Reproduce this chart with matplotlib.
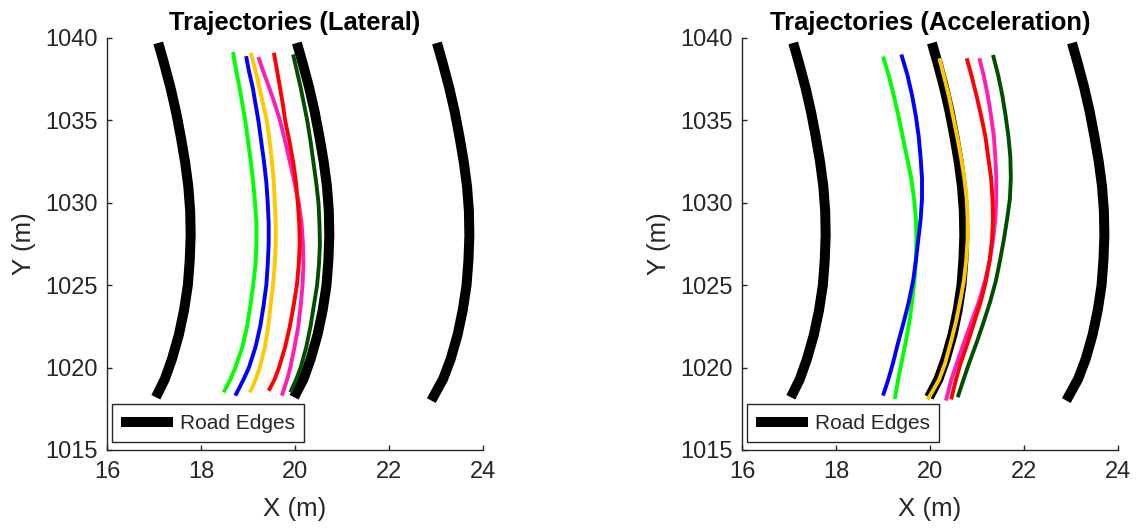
import matplotlib
matplotlib.use("Agg")
import matplotlib.pyplot as plt

plt.rcParams['font.family'] = ['Liberation Sans', 'DejaVu Sans']

# road edges (same in both panels)
edge_y = [1039.7, 1038.5, 1037.0, 1035.5, 1034.0, 1032.5, 1031.0, 1029.5, 1028.0, 1026.5,
          1025.0, 1023.5, 1022.0, 1020.5, 1019.3, 1018.2]
edge_left_x = [17.09, 17.21, 17.35, 17.47, 17.57, 17.66, 17.73, 17.77, 17.78, 17.76,
               17.72, 17.64, 17.53, 17.38, 17.23, 17.04]
edge_mid_x = [20.04, 20.16, 20.30, 20.42, 20.52, 20.61, 20.68, 20.72, 20.73, 20.71,
              20.67, 20.59, 20.48, 20.33, 20.18, 19.98]
edge_right_y = [1039.7, 1038.5, 1037.0, 1035.5, 1034.0, 1032.5, 1031.0, 1029.5, 1028.0, 1026.5,
                1025.0, 1023.5, 1022.0, 1020.5, 1019.3, 1018.0]
edge_right_x = [23.02, 23.14, 23.28, 23.40, 23.50, 23.59, 23.66, 23.70, 23.71, 23.69,
                23.65, 23.57, 23.46, 23.31, 23.15, 22.90]

# lateral trajectories
lat_y_mid = [1038.0, 1037.0, 1036.0, 1035.0, 1033.75, 1032.5, 1031.25, 1030.0, 1028.75,
             1027.5, 1026.25, 1025.0, 1023.75, 1022.5, 1021.25, 1020.0, 1019.25]
lat_green_y = [1039.15] + lat_y_mid + [1018.5]
lat_green_x = [18.68, 18.75, 18.82, 18.88, 18.94, 19.00, 19.06, 19.11, 19.15, 19.18,
               19.18, 19.16, 19.11, 19.05, 18.98, 18.88, 18.73, 18.62, 18.48]
lat_blue_y = [1038.9] + lat_y_mid + [1018.3]
lat_blue_x = [18.96, 19.02, 19.10, 19.16, 19.22, 19.28, 19.34, 19.39, 19.42, 19.44,
              19.44, 19.42, 19.39, 19.33, 19.26, 19.16, 19.02, 18.90, 18.73]
lat_yellow_y = [1039.1] + lat_y_mid + [1018.5]
lat_yellow_x = [19.06, 19.16, 19.24, 19.32, 19.40, 19.46, 19.51, 19.55, 19.57, 19.59,
                19.59, 19.57, 19.53, 19.48, 19.43, 19.36, 19.25, 19.16, 19.04]
lat_pink_y = [1038.85] + lat_y_mid + [1018.3]
lat_pink_x = [19.22, 19.32, 19.45, 19.57, 19.68, 19.79, 19.89, 19.99, 20.08, 20.14,
              20.17, 20.18, 20.16, 20.12, 20.07, 19.99, 19.90, 19.83, 19.72]
lat_red_y = [1039.1] + lat_y_mid + [1018.6]
lat_red_x = [19.55, 19.62, 19.68, 19.74, 19.79, 19.88, 19.96, 20.02, 20.06, 20.09,
             20.10, 20.08, 20.04, 19.97, 19.89, 19.79, 19.66, 19.56, 19.44]
lat_dkgreen_y = [1039.0] + lat_y_mid + [1018.5]
lat_dkgreen_x = [19.96, 20.04, 20.12, 20.19, 20.26, 20.33, 20.39, 20.45, 20.50, 20.52,
                 20.53, 20.51, 20.47, 20.40, 20.33, 20.24, 20.12, 20.02, 19.90]

# acceleration trajectories
acc_y_mid = [1037.75, 1036.5, 1035.25, 1034.0, 1032.75, 1031.5, 1030.25, 1029.0, 1027.75,
             1026.5, 1025.25, 1024.0, 1022.75, 1021.5, 1020.25, 1019.25]
acc_green_y = [1038.87] + acc_y_mid + [1018.1]
acc_green_x = [19.00, 19.12, 19.23, 19.33, 19.42, 19.51, 19.60, 19.66, 19.70, 19.71,
               19.70, 19.67, 19.62, 19.56, 19.48, 19.39, 19.32, 19.25]
acc_blue_y = [1039.0] + acc_y_mid + [1018.3]
acc_blue_x = [19.39, 19.52, 19.62, 19.70, 19.76, 19.80, 19.83, 19.83, 19.80, 19.75,
              19.70, 19.64, 19.55, 19.44, 19.32, 19.21, 19.11, 19.00]
acc_yellow_y = [1038.77] + acc_y_mid + [1018.05]
acc_yellow_x = [20.20, 20.29, 20.40, 20.49, 20.58, 20.66, 20.73, 20.78, 20.80, 20.80,
                20.77, 20.72, 20.64, 20.55, 20.44, 20.32, 20.19, 19.95]
acc_red_y = [1038.77] + acc_y_mid + [1018.07]
acc_red_x = [20.78, 20.88, 20.99, 21.09, 21.18, 21.24, 21.30, 21.33, 21.34, 21.32,
             21.27, 21.19, 21.08, 20.94, 20.80, 20.65, 20.55, 20.45]
acc_pink_y = [1038.77] + acc_y_mid + [1018.0]
acc_pink_x = [21.05, 21.14, 21.23, 21.30, 21.36, 21.39, 21.41, 21.41, 21.39, 21.34,
              21.27, 21.17, 21.04, 20.88, 20.72, 20.57, 20.45, 20.34]
acc_dkgreen_y = [1038.97] + acc_y_mid + [1018.2]
acc_dkgreen_x = [21.34, 21.45, 21.54, 21.61, 21.67, 21.71, 21.72, 21.70, 21.64, 21.57,
                 21.49, 21.40, 21.28, 21.14, 20.99, 20.83, 20.71, 20.59]

colors = ['#00ff00', '#0000ff', '#ffc800', '#ff1eb4', '#ff0000', '#004f00']
lat_trajs = [(lat_green_x, lat_green_y), (lat_blue_x, lat_blue_y), (lat_yellow_x, lat_yellow_y),
             (lat_pink_x, lat_pink_y), (lat_red_x, lat_red_y), (lat_dkgreen_x, lat_dkgreen_y)]
acc_trajs = [(acc_green_x, acc_green_y), (acc_blue_x, acc_blue_y), (acc_yellow_x, acc_yellow_y),
             (acc_pink_x, acc_pink_y), (acc_red_x, acc_red_y), (acc_dkgreen_x, acc_dkgreen_y)]

grey = (0.15, 0.15, 0.15)

fig = plt.figure(figsize=(11.37, 5.28), dpi=100)
ax1 = fig.add_axes([107/1137, 1 - 450/528, 376/1137, 412/528])
ax2 = fig.add_axes([742/1137, 1 - 450/528, 376/1137, 412/528])


def draw_panel(ax, trajs, title):
    kw = dict(color='k', lw=7.2, solid_capstyle='butt', solid_joinstyle='round')
    ax.plot(edge_left_x, edge_y, label='Road Edges', **kw)
    ax.plot(edge_mid_x, edge_y, **kw)
    ax.plot(edge_right_x, edge_right_y, **kw)
    for (x, y), c in zip(trajs, colors):
        ax.plot(x, y, color=c, lw=2.8, solid_capstyle='butt', solid_joinstyle='round')
    ax.set_xlim(16, 24)
    ax.set_ylim(1015, 1040)
    ax.set_xticks([16, 18, 20, 22, 24])
    ax.set_yticks([1015, 1020, 1025, 1030, 1035, 1040])
    for s in ['top', 'right']:
        ax.spines[s].set_visible(False)
    for s in ['left', 'bottom']:
        ax.spines[s].set_color(grey)
        ax.spines[s].set_linewidth(1.0)
    ax.tick_params(direction='in', length=3.6, width=1.0, color=grey, labelcolor=grey, labelsize=17)
    ax.tick_params(axis='x', pad=8)
    ax.tick_params(axis='y', pad=7)
    ax.set_xlabel('X (m)', fontsize=18.6, color=grey, labelpad=10)
    ax.set_ylabel('Y (m)', fontsize=18.6, color=grey, labelpad=6)
    ax.set_title(title, fontsize=18.4, fontweight='bold', pad=6)
    leg = ax.legend(loc='lower left', bbox_to_anchor=(0.013, 0.019), borderaxespad=0,
                    fontsize=15, handlelength=2.5, handletextpad=0.3, borderpad=0.45,
                    fancybox=False, framealpha=1)
    leg.get_frame().set_edgecolor(grey)
    leg.get_frame().set_linewidth(1.0)
    for t in leg.get_texts():
        t.set_color(grey)


draw_panel(ax1, lat_trajs, 'Trajectories (Lateral)')
draw_panel(ax2, acc_trajs, 'Trajectories (Acceleration)')

fig.savefig('out.png', dpi=100)
